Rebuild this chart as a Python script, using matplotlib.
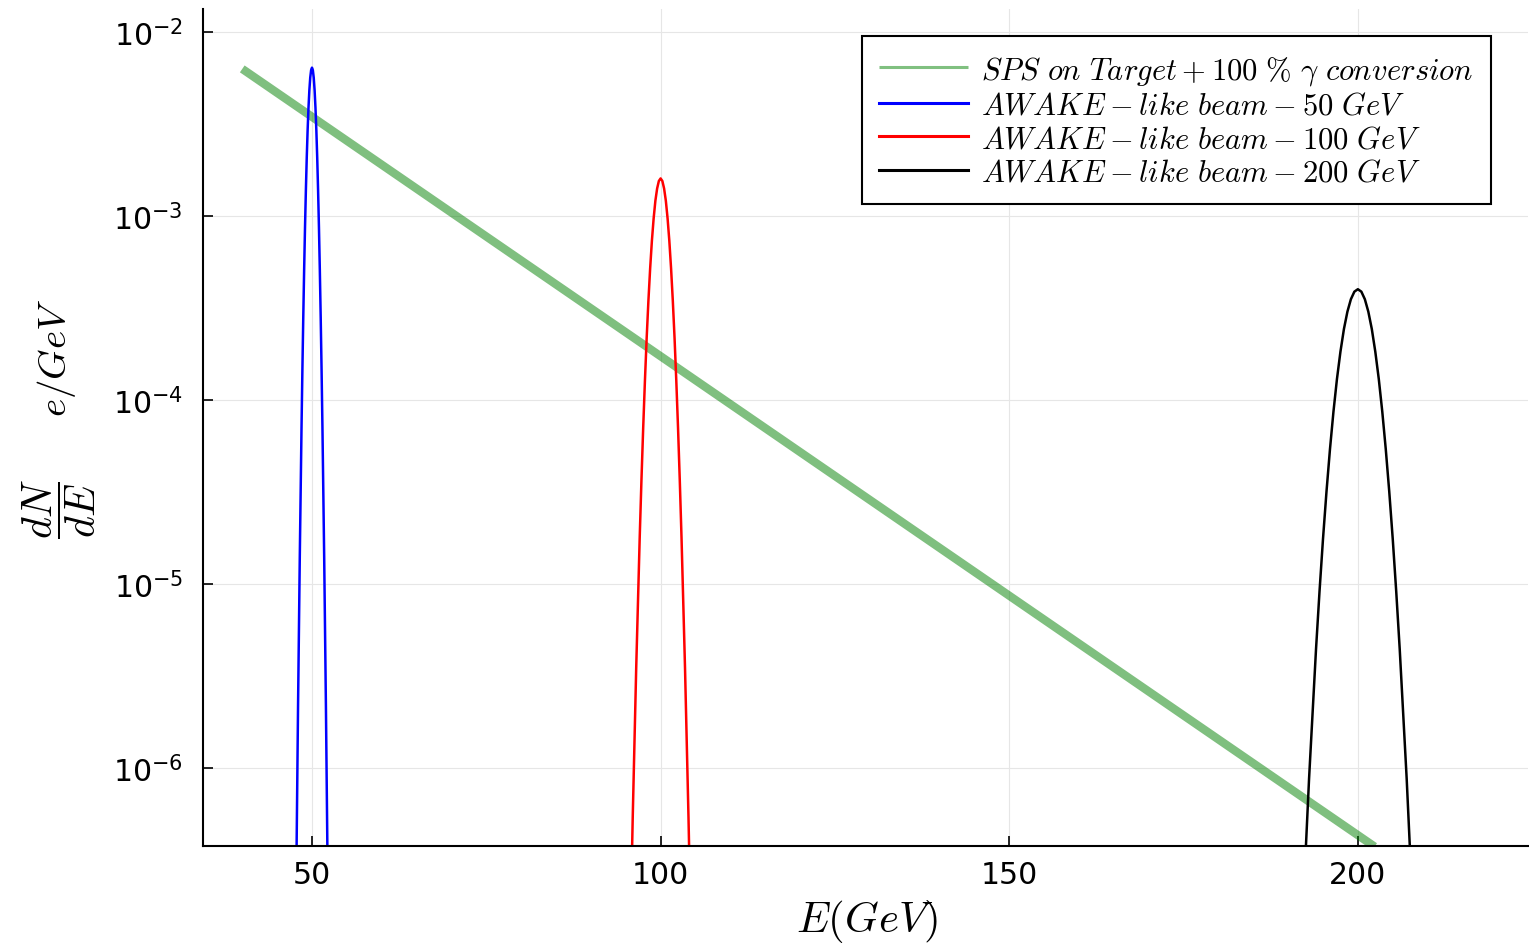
import matplotlib
matplotlib.use("Agg")
import matplotlib.pyplot as plt
from matplotlib.font_manager import FontProperties

# SPS on target + 100 % gamma conversion (straight line on log scale)
sps_E = [40.0, 202.4]
sps_dNdE = [6.3e-3, 3.74e-7]

# AWAKE-like beam, 50 GeV
awake50_E = [47.75, 48.0, 48.25, 48.5, 48.625, 48.75, 48.875, 49.0, 49.125, 49.25, 49.375, 49.5, 49.625,
             49.75, 49.875, 50.0, 50.125, 50.25, 50.375, 50.5, 50.625, 50.75, 50.875, 51.0, 51.125,
             51.25, 51.375, 51.5, 51.75, 52.0, 52.25]
awake50_dNdE = [2.57e-7, 2.15e-6, 1.40e-5, 7.11e-5, 1.46e-4, 2.81e-4, 5.09e-4, 8.66e-4, 1.38e-3, 2.08e-3,
                2.93e-3, 3.88e-3, 4.83e-3, 5.65e-3, 6.20e-3, 6.4e-3, 6.20e-3, 5.65e-3, 4.83e-3, 3.88e-3,
                2.93e-3, 2.08e-3, 1.38e-3, 8.66e-4, 5.09e-4, 2.81e-4, 1.46e-4, 7.11e-5, 1.40e-5, 2.15e-6,
                2.57e-7]

# AWAKE-like beam, 100 GeV
awake100_E = [95.5, 96.0, 96.5, 97.0, 97.25, 97.5, 97.75, 98.0, 98.25, 98.5, 98.75, 99.0, 99.25,
              99.5, 99.75, 100.0, 100.25, 100.5, 100.75, 101.0, 101.25, 101.5, 101.75, 102.0, 102.25,
              102.5, 102.75, 103.0, 103.5, 104.0, 104.5]
awake100_dNdE = [6.43e-8, 5.37e-7, 3.50e-6, 1.78e-5, 3.65e-5, 7.03e-5, 1.27e-4, 2.17e-4, 3.46e-4, 5.19e-4,
                 7.33e-4, 9.70e-4, 1.21e-3, 1.41e-3, 1.55e-3, 1.6e-3, 1.55e-3, 1.41e-3, 1.21e-3, 9.70e-4,
                 7.33e-4, 5.19e-4, 3.46e-4, 2.17e-4, 1.27e-4, 7.03e-5, 3.65e-5, 1.78e-5, 3.50e-6, 5.37e-7,
                 6.43e-8]

# AWAKE-like beam, 200 GeV
awake200_E = [191.0, 192.0, 193.0, 194.0, 194.5, 195.0, 195.5, 196.0, 196.5, 197.0, 197.5, 198.0, 198.5,
              199.0, 199.5, 200.0, 200.5, 201.0, 201.5, 202.0, 202.5, 203.0, 203.5, 204.0, 204.5,
              205.0, 205.5, 206.0, 207.0, 208.0, 209.0]
awake200_dNdE = [1.61e-8, 1.34e-7, 8.75e-7, 4.44e-6, 9.12e-6, 1.76e-5, 3.18e-5, 5.41e-5, 8.65e-5, 1.30e-4,
                 1.83e-4, 2.43e-4, 3.02e-4, 3.53e-4, 3.88e-4, 4.0e-4, 3.88e-4, 3.53e-4, 3.02e-4, 2.43e-4,
                 1.83e-4, 1.30e-4, 8.65e-5, 5.41e-5, 3.18e-5, 1.76e-5, 9.12e-6, 4.44e-6, 8.75e-7, 1.34e-7,
                 1.61e-8]

labels = [r"$SPS\ on\ Target + 100\ \%\ \gamma\ conversion\ \ \ $",
          r"$AWAKE - like\ beam - 50\ GeV$",
          r"$AWAKE - like\ beam - 100\ GeV$",
          r"$AWAKE - like\ beam - 200\ GeV$"]

x_ticks = [50, 100, 150, 200]
y_ticks = [1e-6, 1e-5, 1e-4, 1e-3, 1e-2]


def main():
    fig = plt.figure(figsize=(15.29, 9.45), dpi=100)
    ax = fig.add_axes([203/1529, 1 - 847/945, 1325/1529, 837/945])

    ax.plot(sps_E, sps_dNdE, color="green", alpha=0.5, lw=6, solid_capstyle="butt", label=labels[0])
    ax.plot(awake50_E, awake50_dNdE, color="blue", lw=1.8, label=labels[1])
    ax.plot(awake100_E, awake100_dNdE, color="red", lw=1.8, label=labels[2])
    ax.plot(awake200_E, awake200_dNdE, color="black", lw=1.8, label=labels[3])

    ax.set_yscale("log")
    ax.set_xlim(34.37, 224.4)
    ax.set_ylim(3.77e-7, 1.333e-2)
    ax.set_xticks(x_ticks)
    ax.set_yticks(y_ticks)
    ax.minorticks_off()

    ax.grid(True, color="#e6e6e6", lw=0.8)
    ax.set_axisbelow(True)
    for s in ["top", "right"]:
        ax.spines[s].set_visible(False)
    for s in ["left", "bottom"]:
        ax.spines[s].set_linewidth(1.5)
    ax.tick_params(direction="in", length=7, width=1.2, labelsize=21.5)
    ax.tick_params(axis="x", pad=10)
    ax.tick_params(axis="y", pad=14.5)

    leg = ax.legend(loc="upper right", bbox_to_anchor=(0.972, 0.968), borderaxespad=0,
                    prop=FontProperties(size=22, math_fontfamily="cm"),
                    fancybox=False, edgecolor="black", framealpha=1,
                    handlelength=2.9, handletextpad=0.42, labelspacing=0.14, borderpad=0.58)
    leg.get_frame().set_linewidth(1.5)
    for h in leg.get_lines():
        h.set_linewidth(2.2)
        h.set_alpha(None)
    leg.get_lines()[0].set_color("#80c080")

    fig.text(867/1529, 1 - 932/945, r"$E(GeV)$", ha="center", va="baseline",
             fontsize=31, math_fontfamily="cm")
    # y label: fraction and unit
    fig.text(59/1529, 1 - 509/945, r"$\dfrac{dN}{dE}$", ha="center", va="center",
             rotation=90, fontsize=30, math_fontfamily="cm")
    fig.text(56/1529, 1 - 358/945, r"$e/GeV$", ha="center", va="center",
             rotation=90, fontsize=28, math_fontfamily="cm")

    fig.savefig("out.png", dpi=100)


if __name__ == '__main__':
    main()
